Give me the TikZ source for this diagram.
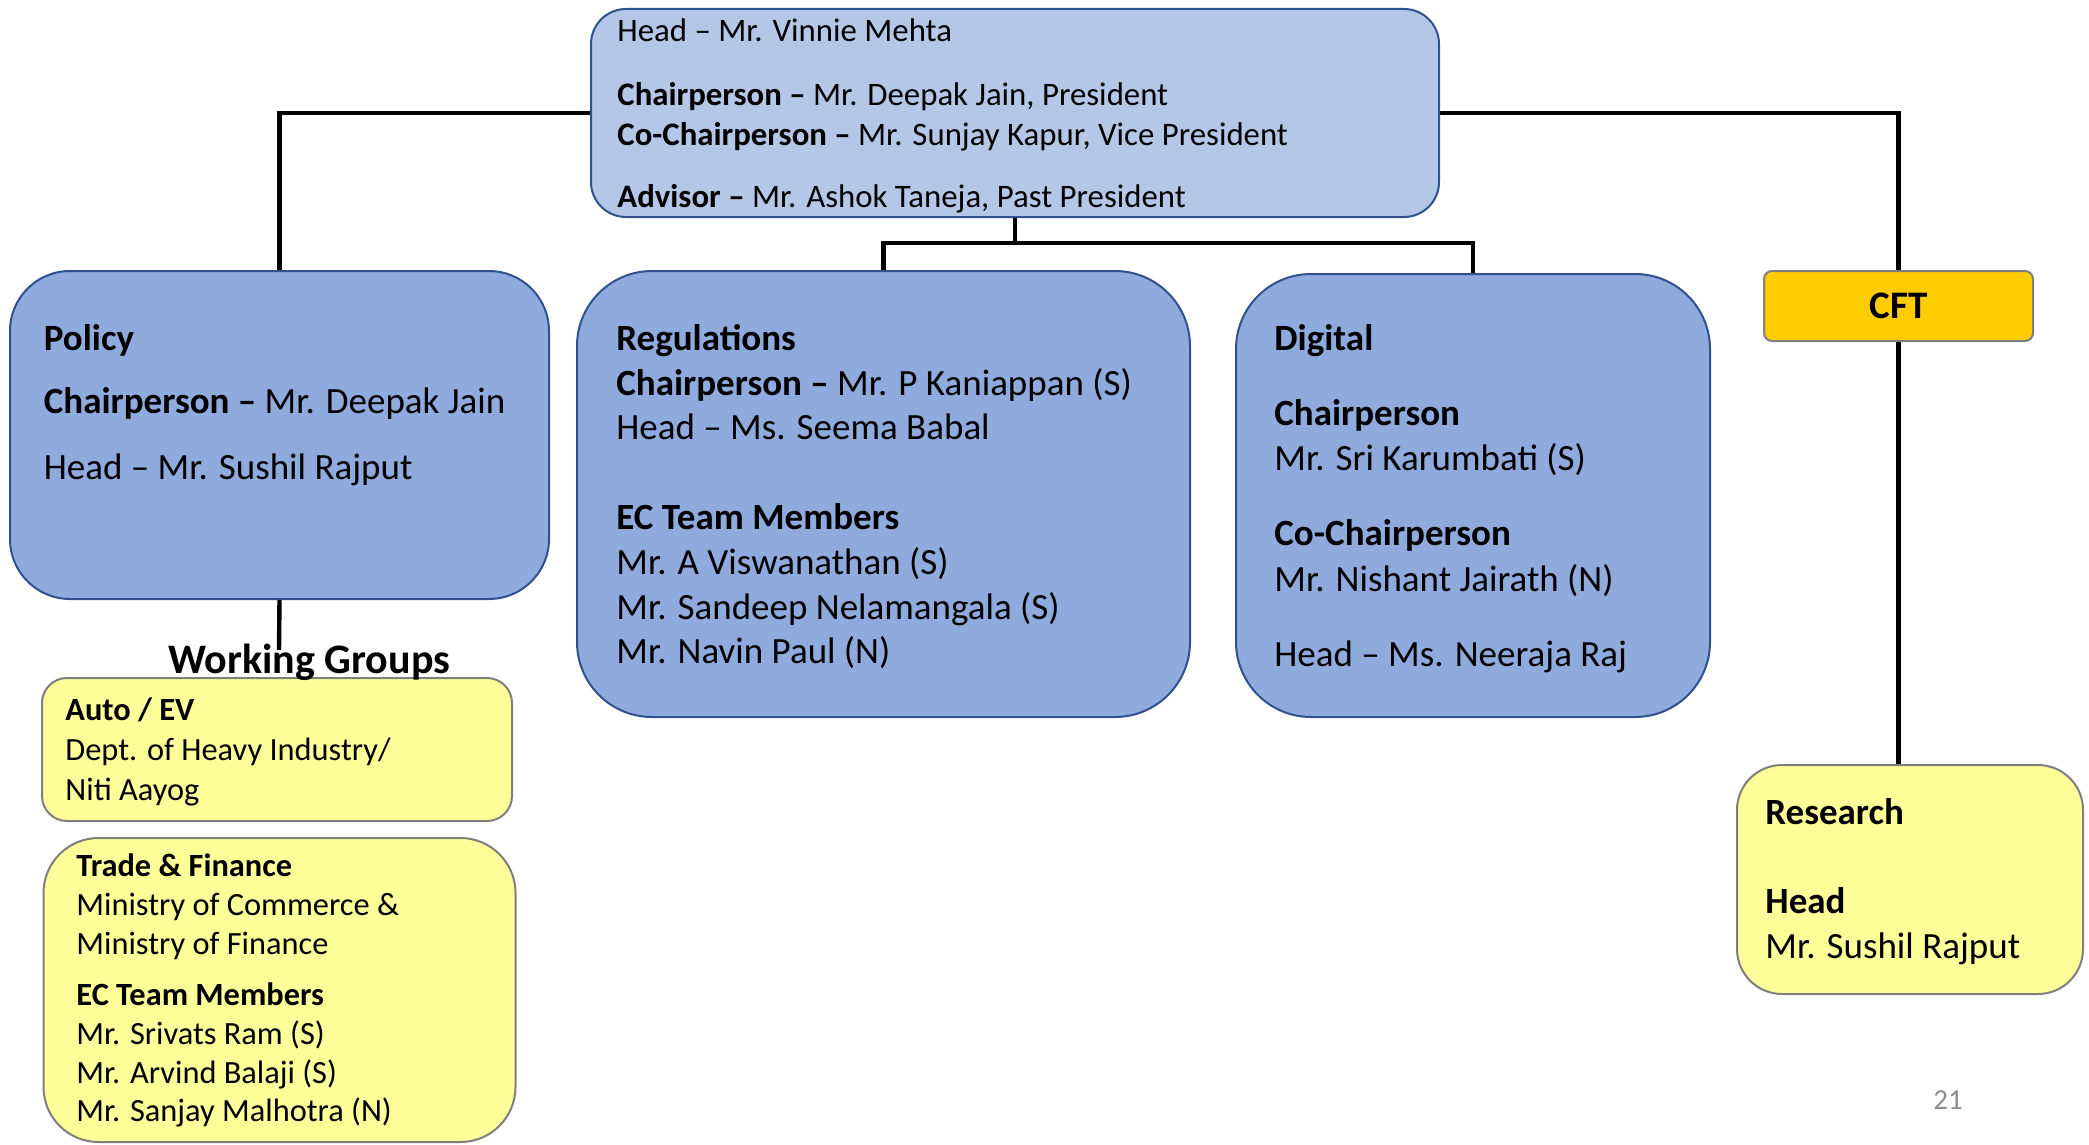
\documentclass[tikz,border=0pt]{standalone}
\usepackage{fontspec}
\setmainfont{Carlito}
\definecolor{topfill}{HTML}{B4C7E7}
\definecolor{bluefill}{HTML}{8FAADC}
\definecolor{blueline}{HTML}{2F528F}
\definecolor{yelfill}{HTML}{FFFF99}
\definecolor{grayline}{HTML}{7F7F7F}
\definecolor{cftfill}{HTML}{FFCC00}
\definecolor{pagenum}{HTML}{8C8C8C}
\newcommand\fTop{\fontsize{16.4}{19}\selectfont}
\newcommand\fBig{\fontsize{18.5}{22}\selectfont}
\newcommand\fSm{\fontsize{16.2}{19}\selectfont}
\newcommand\fRes{\fontsize{18.5}{22}\selectfont}
\tikzset{
  box/.style={draw, line width=1pt, inner sep=0pt, rectangle},
  bluebox/.style={box, fill=bluefill, draw=blueline},
  yelbox/.style={box, fill=yelfill, draw=grayline},
  conn/.style={draw=black, line width=2.2pt},
  txt/.style={inner sep=0pt, anchor=base west, text=black},
}
\begin{document}
\begin{tikzpicture}[x=0.5pt, y=-0.5pt]
\useasboundingbox (0,0) rectangle (2089,1145);
% boxes
\node[box, fill=topfill, draw=blueline, rounded corners=17.5pt, minimum width=424pt, minimum height=104pt] (top) at (1015,113) {};
\node[bluebox, rounded corners=30pt, minimum width=269.5pt, minimum height=164pt] (policy) at (279.5,435) {};
\node[bluebox, rounded corners=37.5pt, minimum width=306.5pt, minimum height=223pt] (reg) at (883.5,494) {};
\node[bluebox, rounded corners=37.5pt, minimum width=237pt, minimum height=221.5pt] (dig) at (1473,495.5) {};
\node[box, fill=cftfill, draw=grayline, rounded corners=4pt, minimum width=134.5pt, minimum height=35pt] (cft) at (1898.5,306) {};
\node[yelbox, rounded corners=22.5pt, minimum width=173pt, minimum height=114.5pt] (res) at (1910,879.5) {};
\node[yelbox, rounded corners=12.5pt, minimum width=235pt, minimum height=71.5pt] (auto) at (277,749.5) {};
\node[yelbox, rounded corners=27.5pt, minimum width=236pt, minimum height=152pt] (trade) at (279.5,990) {};
% connectors
\coordinate (j) at (1015,243);
\coordinate (wgtop) at (279,650);
\draw[conn] (top.west) -| (policy.north);
\draw[conn] (top.east) -| (cft.north);
\draw[conn] (cft.south) -- (cft.south |- res.north);
\draw[conn] (top.south) -- (j);
\draw[conn] (reg.north) -- (reg.north |- j) -- (dig.north |- j) -- (dig.north);
\draw[conn] (policy.south) -- (wgtop);
% top box text
\node[txt] (t1) at (617,41.5) {\fTop Head – Mr. Vinnie Mehta};
\node[txt] (t2) at (617,106) {\fTop\textbf{Chairperson –} Mr. Deepak Jain, President};
\node[txt] (t3) at (617,145.5) {\fTop\textbf{Co-Chairperson –} Mr. Sunjay Kapur, Vice President};
\node[txt] (t4) at (617,207.5) {\fTop\textbf{Advisor –} Mr. Ashok Taneja, Past President};
% policy
\node[txt] (p1) at (43.5,350) {\fBig\textbf{Policy}};
\node[txt] (p2) at (43.5,413) {\fBig\textbf{Chairperson –} Mr. Deepak Jain};
\node[txt] (p3) at (43.5,479) {\fBig Head – Mr. Sushil Rajput};
% regulations
\node[txt] (r1) at (616,350) {\fBig\textbf{Regulations}};
\node[txt] (r2) at (616,395.5) {\fBig\textbf{Chairperson –} Mr. P Kaniappan (S)};
\node[txt] (r3) at (616,439) {\fBig Head – Ms. Seema Babal};
\node[txt] (r4) at (616,529) {\fBig\textbf{EC Team Members}};
\node[txt] (r5) at (616,574) {\fBig Mr. A Viswanathan (S)};
\node[txt] (r6) at (616,619) {\fBig Mr. Sandeep Nelamangala (S)};
\node[txt] (r7) at (616,663) {\fBig Mr. Navin Paul (N)};
% digital
\node[txt] (d1) at (1274,350) {\fBig\textbf{Digital}};
\node[txt] (d2) at (1274,425) {\fBig\textbf{Chairperson}};
\node[txt] (d3) at (1274,470.5) {\fBig Mr. Sri Karumbati (S)};
\node[txt] (d4) at (1274,545.5) {\fBig\textbf{Co-Chairperson}};
\node[txt] (d5) at (1274,591) {\fBig Mr. Nishant Jairath (N)};
\node[txt] (d6) at (1274,666) {\fBig Head – Ms. Neeraja Raj};
% CFT
\node[inner sep=0pt, anchor=base] (cftt) at (1898.5,318) {\fontsize{19.5}{22}\selectfont\textbf{CFT}};
% research
\node[txt] (s1) at (1765,824) {\fRes\textbf{Research}};
\node[txt] (s2) at (1765,913) {\fRes\textbf{Head}};
\node[txt] (s3) at (1765,958) {\fRes Mr. Sushil Rajput};
% working groups
\node[txt] (wg) at (168,673) {\fontsize{21}{25}\selectfont\textbf{Working Groups}};
\node[txt] (a1) at (65,720) {\fSm\textbf{Auto / EV}};
\node[txt] (a2) at (65,760) {\fSm Dept. of Heavy Industry/};
\node[txt] (a3) at (65,800) {\fSm Niti Aayog};
\node[txt] (f1) at (76,876) {\fSm\textbf{Trade \& Finance}};
\node[txt] (f2) at (76,915) {\fSm Ministry of Commerce \&};
\node[txt] (f3) at (76,954) {\fSm Ministry of Finance};
\node[txt] (f4) at (76,1005) {\fSm\textbf{EC Team Members}};
\node[txt] (f5) at (76,1044) {\fSm Mr. Srivats Ram (S)};
\node[txt] (f6) at (76,1083) {\fSm Mr. Arvind Balaji (S)};
\node[txt] (f7) at (76,1121) {\fSm Mr. Sanjay Malhotra (N)};
% page number
\node[txt, text=pagenum] (pg) at (1933,1109) {\fontsize{14.5}{17}\selectfont 21};
\end{tikzpicture}
\end{document}
